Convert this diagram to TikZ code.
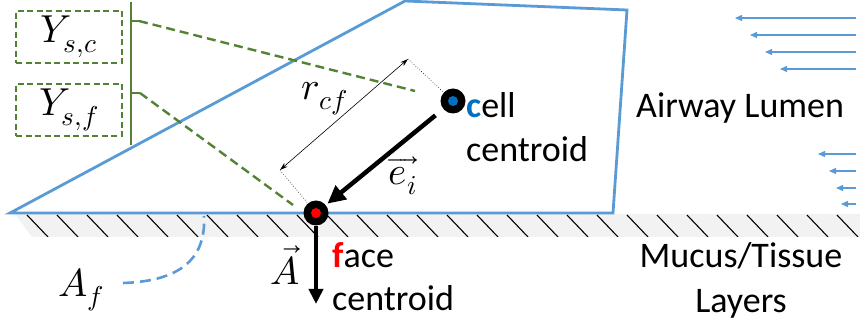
\documentclass[tikz,border=0pt]{standalone}
\usepackage{fontspec}
\usepackage{unicode-math}
\setmainfont{Carlito}
\setmathfont{Latin Modern Math}
\usetikzlibrary{arrows.meta}
\definecolor{cellblue}{HTML}{5B9BD5}
\definecolor{boxgreen}{HTML}{548235}
\definecolor{dotblue}{HTML}{0070C0}
\definecolor{bandgray}{HTML}{F2F2F2}
\begin{document}
\begin{tikzpicture}[x=1pt,y=-1pt,
  txt/.style={inner sep=0pt, font=\fontsize{36}{44}\selectfont},
  mathlbl/.style={inner sep=0pt, font=\fontsize{39}{46}\selectfont},
  gbox/.style={draw=boxgreen, line width=2.2pt, dash pattern=on 6pt off 3.5pt,
    minimum width=106pt, minimum height=52pt, inner sep=0pt, font=\fontsize{39}{46}\selectfont},
  gdash/.style={boxgreen, line width=2.4pt, dash pattern=on 9pt off 5pt},
  centroid/.style={circle, fill=black, minimum size=25pt, inner sep=0pt},
  flow/.style={cellblue, line width=1.3pt, -{Triangle[length=7pt,width=6pt]}},
  bigarrow/.style={line width=4.5pt, -{Triangle[length=18pt,width=17pt]}}]
\useasboundingbox (0,0) rectangle (860,328);
% band
\fill[bandgray] (15,214) -- (860,214) -- (860,237) -- (32,237) -- cycle;
\begin{scope}
\clip (15,214) -- (860,214) -- (860,237) -- (32,237) -- cycle;
\foreach \x in {27,57,...,867} \draw[line width=1.1pt] (\x,215) -- (\x+21,237);
\end{scope}
% cell polygon
\coordinate (c1) at (10,213);
\coordinate (c2) at (405,1);
\coordinate (c3) at (627,10);
\coordinate (c4) at (613,213);
\draw[cellblue, line width=2.8pt, line join=miter] (c1) -- (c2) -- (c3) -- (c4) -- cycle;
% green boxes
\node[gbox] (ysc) at (69,37) {$Y_{s,c}$};
\node[gbox] (ysf) at (69,110) {$Y_{s,f}$};
\coordinate (vt) at (131,2);
\coordinate (vb) at (131,145);
\draw[boxgreen, line width=2.4pt] (vt) -- (vb);
\coordinate (t1a) at (131,21);
\coordinate (t1b) at (139,21);
\coordinate (t1c) at (415,91);
\coordinate (t2a) at (131,93);
\coordinate (t2b) at (140,93);
\coordinate (t2c) at (293,205);
\draw[boxgreen, line width=2.4pt] (t1a) -- (t1b);
\draw[boxgreen, line width=2.4pt] (t2a) -- (t2b);
\draw[gdash] (t1b) -- (t1c);
\draw[gdash] (t2b) -- (t2c);
% centroids
\node[centroid] (cc) at (453,101) {};
\fill[dotblue] (cc.center) circle (5);
\node[centroid] (fc) at (316,213) {};
\fill[red] (fc.center) circle (5);
% dimension
\coordinate (d1) at (408,59);
\coordinate (d2) at (280,170);
\draw[line width=0.6pt, {Stealth[length=8pt,width=5pt]}-{Stealth[length=8pt,width=5pt]}] (d1) -- (d2);
\draw[line width=0.6pt, dotted] (d1) -- (cc);
\draw[line width=0.6pt, dotted] (d2) -- (fc);
\node[mathlbl] (rcf) at (325,99) {$r_{cf}$};
% e_i arrow
\draw[bigarrow, shorten <=10pt, shorten >=2pt] (cc) -- (fc);
\node[mathlbl] (ei) at (403,176) {$\overrightarrow{e_i}$};
% A arrow
\coordinate (aend) at (316,304);
\draw[line width=3.8pt, -{Triangle[length=15pt,width=14pt]}] (fc.south) -- (aend);
\node[mathlbl] (avec) at (285,265) {$\vec{A}$};
% A_f
\node[mathlbl] (af) at (81,290) {$A_f$};
\coordinate (afs) at (123,283);
\coordinate (afe) at (204,216);
\draw[cellblue, line width=2.6pt, dash pattern=on 11pt off 6pt] (afs) .. controls (185,281) and (206,255) .. (afe);
% texts
\node[txt, anchor=base west] (cell) at (466,118) {\textcolor{dotblue}{\textbf{c}}ell};
\node[txt, anchor=base west] (cellc) at (466,162) {centroid};
\node[txt, anchor=base west] (face) at (332,268) {\textcolor{red}{\textbf{f}}ace};
\node[txt, anchor=base west] (facec) at (332,311) {centroid};
\node[txt, anchor=base west] (lumen) at (636,118) {Airway Lumen};
\node[txt, anchor=base] (mucus) at (741,268) {Mucus/Tissue};
\node[txt, anchor=base] (layers) at (741,313) {Layers};
% flow arrows
\foreach \y/\x [count=\i] in {18/735, 35/750, 52/765, 69/780, 154/818, 171/829, 188/836, 204/841} {
  \coordinate (fs\i) at (856,\y);
  \coordinate (fe\i) at (\x,\y);
  \draw[flow] (fs\i) -- (fe\i);
}
\end{tikzpicture}
\end{document}
